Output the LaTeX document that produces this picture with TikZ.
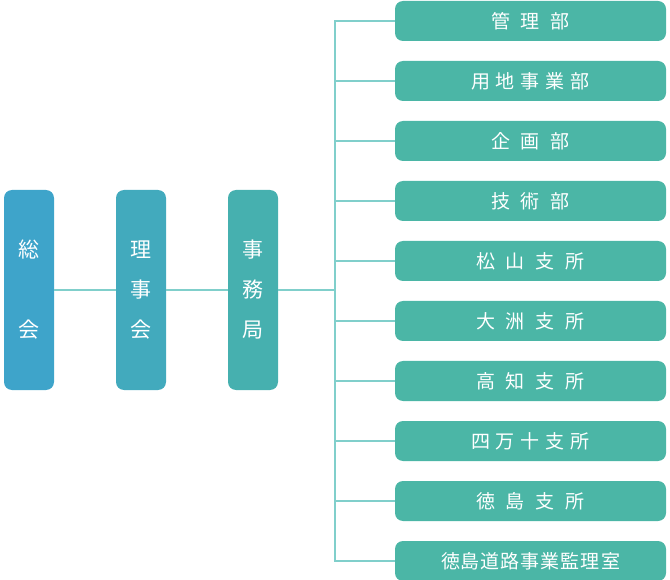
\documentclass[tikz,border=0pt]{standalone}
\usepackage{fontspec}
\newfontfamily\jp{Noto Sans CJK JP}
\usetikzlibrary{calc}
\definecolor{sokaiblue}{HTML}{3EA4CA}
\definecolor{rijiblue}{HTML}{42AABD}
\definecolor{jimuteal}{HTML}{46B0AF}
\definecolor{deptteal}{HTML}{4BB6A6}
\definecolor{linkteal}{HTML}{80CFCB}
\tikzset{organ/.style={rounded corners=8pt, fill=#1, text=white, minimum width=50pt, minimum height=200pt, align=center, inner sep=0pt, font=\jp\fontsize{21}{40}\selectfont},
         dept/.style={rounded corners=8pt, fill=deptteal, text=white, minimum width=271pt, minimum height=40pt, inner sep=0pt, font=\jp\fontsize{19}{20}\selectfont},
         link/.style={draw=linkteal, line width=1.5pt}}
% spread the characters of a label: \spreadtext{gap}{text}
\makeatletter
\newcommand*\spreadtext[2]{\def\sp@gap{#1}\expandafter\sp@first#2\relax}
\def\sp@first#1{#1\sp@rest}
\def\sp@rest#1{\ifx#1\relax\else\hspace{\sp@gap}#1\expandafter\sp@rest\fi}
\makeatother

\begin{document}
\begin{tikzpicture}[x=1pt, y=-1pt]
        \useasboundingbox (0,0) rectangle (670,580);

        \node[organ=sokaiblue] (sokai) at (29,290) {総\\[40pt]会};
        \node[organ=rijiblue] (rijikai) at (141,290) {理\\事\\会};
        \node[organ=jimuteal] (jimukyoku) at (253,290) {事\\務\\局};
        \coordinate (trunk) at (335,290);
        %
        \draw[link] (sokai) -- (rijikai);
        \draw[link] (rijikai) -- (jimukyoku);
        %
        \foreach \txt/\gap [count=\i from 0] in {管理部/11pt, 用地事業部/6pt, 企画部/11pt, 技術部/11pt,
                松山支所/11pt, 大洲支所/11pt, 高知支所/11pt, 四万十支所/6pt, 徳島支所/11pt,
                徳島道路事業監理室/1pt}{
            \node[dept] (dept\i) at (530.5,{21+60*\i}) {\spreadtext{\gap}{\txt}};
            \draw[link] (jimukyoku.east) -- (trunk) |- (dept\i.west);
        }
    \end{tikzpicture}
\end{document}
